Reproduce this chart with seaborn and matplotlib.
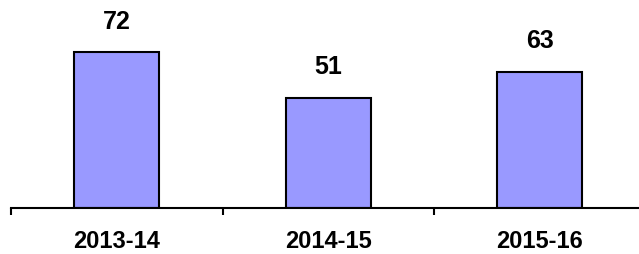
import matplotlib
matplotlib.use("Agg")
import matplotlib.pyplot as plt
import seaborn as sns
import pandas as pd

categories = ["2013-14", "2014-15", "2015-16"]
values = [72, 51, 63]

sns.set_style("white")
plt.rcParams['font.family'] = ['Liberation Sans', 'DejaVu Sans']
plt.rcParams['text.color'] = 'black'
plt.rcParams['xtick.color'] = 'black'

df = pd.DataFrame({"year": categories, "value": values})

fig = plt.figure(figsize=(6.39, 2.54), dpi=100)
ax = fig.add_axes([11/639, 46/254, 634.5/639, 208/254])
sns.barplot(data=df, x="year", y="value", color="#9999FF", saturation=1,
            width=0.4, edgecolor="black", linewidth=1.5, ax=ax)
ax.set_xlim(-0.5, 2.5)
ax.set_ylim(0, 96)

for i, v in enumerate(values):
    ax.annotate(str(v), (i, v), xytext=(0, 13), textcoords="offset points",
                ha="center", va="bottom", fontsize=18, fontweight="bold",
                color="black")

for s in ["top", "right", "left"]:
    ax.spines[s].set_visible(False)
ax.spines["bottom"].set_color("black")
ax.spines["bottom"].set_linewidth(1.5)
ax.set_yticks([])
ax.set_xticks([-0.5, 0.5, 1.5, 2.5])
ax.set_xticklabels([])
ax.tick_params(axis="x", which="major", length=5, width=1.5, color="black", direction="out", bottom=True)
ax.set_xticks([0, 1, 2], minor=True)
ax.set_xticklabels(categories, minor=True, fontsize=17, fontweight="bold", color="black")
ax.tick_params(axis="x", which="minor", length=0, pad=16)
ax.set_xlabel("")
ax.set_ylabel("")

fig.savefig("out.png", dpi=100)
